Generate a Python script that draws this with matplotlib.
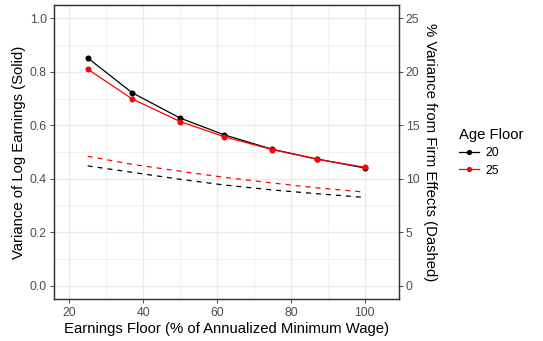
import matplotlib
matplotlib.use("Agg")
import matplotlib.pyplot as plt
from matplotlib.lines import Line2D
from matplotlib.ticker import MultipleLocator

plt.rcParams["font.family"] = ["Liberation Sans", "DejaVu Sans"]

# earnings floor (% of annualized minimum wage)
floors = [25, 37, 50, 62, 75, 87, 100]
age_floors = ["20", "25"]

# variance of log earnings (solid, left axis)
var_20 = [0.852, 0.722, 0.627, 0.564, 0.510, 0.474, 0.440]
var_25 = [0.810, 0.699, 0.614, 0.557, 0.509, 0.473, 0.443]

# % variance from firm effects (dashed, right axis)
firm_20 = [11.2, 10.6, 9.95, 9.41, 8.95, 8.6, 8.25]
firm_25 = [12.1, 11.35, 10.7, 10.13, 9.6, 9.15, 8.75]

colors = {"20": "black", "25": "#FF0000"}
grid_col = "#EBEBEB"

fig = plt.figure(figsize=(5.43, 3.41), dpi=100)
ax = fig.add_axes([53.5 / 543, 1 - 299 / 341, (399 - 53.5) / 543, (299 - 5) / 341])
ax2 = ax.twinx()

ax.set_xlim(15.75, 109.25)
ax.set_ylim(-0.05, 1.05)
ax2.set_ylim(-1.25, 26.25)

# grid (ggplot theme_bw style)
for x in [30, 50, 70, 90]:
    ax.axvline(x, color=grid_col, lw=0.5, zorder=0)
for y in [0.1, 0.3, 0.5, 0.7, 0.9]:
    ax.axhline(y, color=grid_col, lw=0.5, zorder=0)
for x in [20, 40, 60, 80, 100]:
    ax.axvline(x, color=grid_col, lw=1.0, zorder=0)
for y in [0, 0.2, 0.4, 0.6, 0.8, 1.0]:
    ax.axhline(y, color=grid_col, lw=1.0, zorder=0)

for age, v, f in [("20", var_20, firm_20), ("25", var_25, firm_25)]:
    c = colors[age]
    ax.plot(floors, v, color=c, lw=0.9, marker="o", ms=3.3, zorder=3)
    ax2.plot(floors, f, color=c, lw=0.9, dashes=(4, 4), zorder=3)

ax.xaxis.set_major_locator(MultipleLocator(20))
ax.yaxis.set_major_locator(MultipleLocator(0.2))
ax2.yaxis.set_major_locator(MultipleLocator(5))
ax.yaxis.set_major_formatter(plt.FuncFormatter(lambda v, p: f"{v:.1f}"))

for a in (ax, ax2):
    a.tick_params(colors="#333333", labelcolor="#4D4D4D", labelsize=8.8,
                  length=2.8, width=0.6, pad=2)
    for s in a.spines.values():
        s.set_color("#333333")
        s.set_linewidth(0.9)
ax.tick_params(axis="x", pad=3)

ax.set_xlabel("Earnings Floor (% of Annualized Minimum Wage)", fontsize=10.7, labelpad=2)
ax.set_ylabel("Variance of Log Earnings (Solid)", fontsize=10.7, labelpad=3)
ax2.set_ylabel("% Variance from Firm Effects (Dashed)", fontsize=10.7,
               rotation=-90, labelpad=13)

handles = [Line2D([], [], color=colors[a], lw=0.9, marker="o", ms=2.8) for a in age_floors]
leg = fig.legend(handles, age_floors, title="Age Floor", loc="center left",
                 bbox_to_anchor=(448 / 543, 1 - 152 / 341), frameon=False,
                 fontsize=8.8, title_fontsize=10.7, handlelength=1.6,
                 handletextpad=0.6, labelspacing=0.45)
leg._legend_box.align = "left"

fig.savefig("out.png", dpi=100, facecolor="white")
